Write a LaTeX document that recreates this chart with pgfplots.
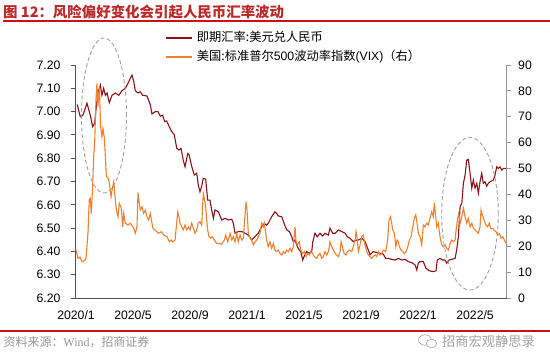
\documentclass[border=0pt]{standalone}
\usepackage{pgfplots}
\pgfplotsset{compat=1.18}
\usepackage{fontspec}
\setmainfont{Liberation Sans}
\newfontfamily\cjk{Noto Sans CJK SC}
\newfontfamily\serifrm{Liberation Serif}
\definecolor{rmbred}{RGB}{140,18,24}
\definecolor{vixorange}{RGB}{240,128,44}
\definecolor{titlered}{RGB}{190,40,40}
\definecolor{linered}{RGB}{204,16,24}
\definecolor{axisgray}{RGB}{80,80,80}
\definecolor{rightgray}{RGB}{150,150,150}
\definecolor{footgray}{RGB}{150,150,150}
\definecolor{ellgray}{RGB}{160,160,160}

\pgfplotstableread{
x y
0.09 7.030
0.30 6.978
0.49 6.985
0.77 7.036
1.00 6.985
1.17 6.935
1.31 6.950
1.40 7.007
1.54 7.080
1.71 7.114
1.82 7.070
1.94 7.100
2.06 7.070
2.18 7.080
2.34 7.038
2.53 7.070
2.76 7.080
3.00 7.070
3.23 7.090
3.46 7.100
3.65 7.121
3.81 7.143
3.93 7.157
4.05 7.130
4.16 7.090
4.35 7.080
4.51 7.085
4.68 7.070
4.98 7.067
5.21 7.030
5.33 6.990
5.56 7.000
5.75 7.000
5.92 6.980
6.08 6.985
6.22 6.957
6.36 6.960
6.51 6.940
6.72 6.914
6.90 6.900
7.07 6.842
7.23 6.835
7.37 6.842
7.53 6.790
7.65 6.763
7.84 6.820
7.93 6.815
8.12 6.765
8.30 6.728
8.47 6.735
8.58 6.685
8.70 6.656
8.82 6.680
8.93 6.714
9.10 6.710
9.24 6.620
9.40 6.620
9.52 6.578
9.64 6.542
9.75 6.578
9.99 6.570
10.22 6.535
10.46 6.542
10.69 6.535
10.93 6.538
11.04 6.520
11.16 6.478
11.39 6.485
11.63 6.485
11.86 6.478
12.09 6.470
12.33 6.449
12.56 6.463
12.79 6.478
13.03 6.506
13.21 6.520
13.38 6.513
13.49 6.520
13.73 6.549
13.96 6.570
14.08 6.563
14.20 6.552
14.44 6.549
14.60 6.520
14.79 6.492
14.97 6.485
15.14 6.463
15.25 6.440
15.37 6.449
15.53 6.420
15.67 6.406
15.77 6.399
15.91 6.363
16.00 6.378
16.19 6.399
16.37 6.392
16.54 6.399
16.61 6.440
16.77 6.478
16.93 6.463
17.12 6.478
17.31 6.466
17.47 6.478
17.71 6.470
17.82 6.500
18.01 6.478
18.18 6.478
18.41 6.492
18.65 6.485
18.88 6.478
19.04 6.463
19.23 6.456
19.46 6.442
19.70 6.449
19.81 6.449
20.05 6.456
20.28 6.442
20.51 6.406
20.63 6.385
20.86 6.399
21.10 6.395
21.33 6.392
21.56 6.388
21.73 6.370
21.92 6.370
22.15 6.366
22.39 6.363
22.62 6.370
22.86 6.363
23.09 6.366
23.32 6.356
23.56 6.352
23.79 6.342
23.91 6.320
24.02 6.350
24.14 6.356
24.37 6.356
24.56 6.327
24.79 6.317
25.07 6.313
25.26 6.317
25.35 6.363
25.54 6.370
25.71 6.363
25.89 6.363
26.01 6.349
26.18 6.363
26.36 6.366
26.60 6.370
26.72 6.410
26.83 6.463
26.95 6.592
27.07 6.606
27.18 6.692
27.30 6.728
27.42 6.792
27.53 6.795
27.65 6.735
27.77 6.671
27.88 6.706
28.00 6.671
28.12 6.692
28.23 6.650
28.35 6.700
28.47 6.735
28.58 6.692
28.70 6.699
28.82 6.680
28.93 6.692
29.05 6.699
29.28 6.706
29.40 6.728
29.52 6.763
29.64 6.756
29.75 6.763
29.87 6.749
29.99 6.756
30.18 6.756
}\rmbdata

\pgfplotstableread{
x y
0.00 18.5
0.07 17.0
0.14 15.3
0.28 15.8
0.42 14.0
0.61 14.5
0.70 15.3
0.84 25.0
0.93 37.9
1.00 38.5
1.07 32.7
1.17 43.0
1.24 54.6
1.31 60.0
1.40 76.5
1.47 82.9
1.54 74.0
1.64 81.6
1.73 66.0
1.82 62.3
1.89 65.5
1.99 61.8
2.06 54.6
2.13 46.9
2.25 46.3
2.34 44.5
2.46 39.1
2.53 41.7
2.65 44.9
2.72 40.4
2.83 34.0
2.95 31.4
3.04 36.6
3.18 34.7
3.28 27.5
3.35 32.7
3.46 28.9
3.65 28.2
3.81 28.9
4.05 26.9
4.16 25.0
4.28 27.5
4.35 40.7
4.44 36.6
4.51 34.0
4.63 35.3
4.75 32.7
4.86 34.0
4.98 31.4
5.10 30.1
5.21 32.7
5.33 28.9
5.40 26.9
5.52 26.3
5.68 25.6
5.80 25.0
5.99 25.6
6.15 24.3
6.39 23.7
6.55 21.7
6.69 22.4
6.79 21.7
6.95 22.4
7.14 33.3
7.23 31.4
7.30 28.9
7.42 27.5
7.53 26.3
7.65 28.2
7.77 26.3
7.88 27.5
8.00 26.3
8.12 28.9
8.23 27.0
8.35 25.0
8.47 26.3
8.58 28.9
8.70 29.5
8.82 28.2
8.93 40.4
9.00 38.5
9.10 35.3
9.17 30.1
9.24 26.3
9.33 23.7
9.47 23.1
9.56 23.7
9.71 22.4
9.87 21.1
10.04 21.1
10.22 20.8
10.41 22.4
10.51 24.3
10.65 21.7
10.81 24.9
10.93 22.4
11.04 23.7
11.16 21.7
11.28 24.9
11.39 21.7
11.51 24.3
11.63 22.4
11.74 23.1
11.93 37.2
12.00 34.0
12.09 25.0
12.21 23.1
12.33 22.4
12.44 20.5
12.56 21.7
12.68 22.4
12.79 23.7
12.91 25.0
13.03 28.9
13.14 27.5
13.21 28.9
13.38 22.4
13.49 19.8
13.61 21.7
13.73 19.2
13.85 21.1
13.96 18.5
14.08 17.9
14.20 18.5
14.32 17.2
14.44 16.6
14.55 17.9
14.67 17.2
14.79 18.5
14.90 17.9
15.02 19.2
15.14 17.9
15.25 19.8
15.37 27.5
15.44 21.7
15.53 20.5
15.67 21.7
15.77 18.5
15.91 17.2
16.02 17.9
16.14 16.0
16.26 17.2
16.37 16.6
16.47 17.9
16.61 17.2
16.72 16.0
16.89 15.3
17.00 16.6
17.12 17.2
17.24 15.3
17.35 16.0
17.47 17.9
17.59 16.6
17.71 17.9
17.82 21.7
17.94 19.8
18.06 18.5
18.18 17.2
18.29 16.6
18.41 16.0
18.53 17.9
18.60 21.7
18.72 19.2
18.81 17.2
18.95 16.6
19.04 17.9
19.18 18.5
19.35 17.9
19.46 19.8
19.58 22.4
19.65 25.6
19.74 22.4
19.81 17.9
19.93 20.5
20.05 23.7
20.16 24.3
20.28 20.5
20.40 17.9
20.51 16.6
20.63 16.0
20.75 15.3
20.86 16.0
20.98 16.6
21.10 16.0
21.21 17.9
21.33 16.6
21.45 17.2
21.56 18.5
21.73 17.9
21.87 22.4
21.96 30.1
22.06 31.4
22.15 28.9
22.22 26.3
22.34 25.0
22.44 19.8
22.53 22.4
22.62 21.7
22.69 19.8
22.81 18.5
22.93 17.9
23.04 17.2
23.16 17.9
23.28 19.8
23.39 22.4
23.51 23.7
23.63 27.5
23.74 30.8
23.84 32.1
23.93 28.9
24.02 25.0
24.14 23.7
24.26 20.5
24.37 28.2
24.49 27.5
24.61 28.9
24.72 28.2
24.84 30.8
24.96 33.3
25.07 31.4
25.14 36.6
25.24 31.4
25.31 27.5
25.42 28.9
25.54 23.7
25.66 20.5
25.77 19.8
25.89 20.5
26.01 19.2
26.13 18.5
26.25 21.1
26.36 22.4
26.48 21.7
26.60 22.4
26.67 26.3
26.76 30.1
26.86 32.7
26.95 28.9
27.07 31.4
27.18 34.7
27.30 31.4
27.42 28.9
27.53 30.8
27.65 27.5
27.77 28.9
27.88 26.9
28.00 26.3
28.12 25.6
28.23 25.0
28.35 27.5
28.42 34.0
28.51 32.1
28.63 30.1
28.77 28.2
28.89 27.5
29.00 28.9
29.10 26.9
29.24 26.9
29.33 26.3
29.47 25.6
29.59 24.3
29.71 24.9
29.82 23.1
29.94 23.7
30.05 22.4
30.18 21.1
}\vixdata

\begin{document}
\begin{tikzpicture}
\path[use as bounding box, fill=white] (0bp,0bp) rectangle (550bp,361bp);

\begin{axis}[
  at={(75bp,63bp)}, anchor=south west,
  scale only axis, width=431.7bp, height=233bp,
  xmin=-0.07, xmax=30.22, ymin=6.2, ymax=7.2,
  axis x line*=bottom, axis y line*=left,
  axis line style={draw=axisgray, line width=0.8pt},
  xtick={0,4,8,12,16,20,24,28},
  xticklabels={2020/1,2020/5,2020/9,2021/1,2021/5,2021/9,2022/1,2022/5},
  xtick style={draw=none},
  ytick={6.2,6.3,6.4,6.5,6.6,6.7,6.8,6.9,7.0,7.1,7.2},
  yticklabels={6.20,6.30,6.40,6.50,6.60,6.70,6.80,6.90,7.00,7.10,7.20},
  ytick align=outside, major tick length=4bp,
  ytick style={draw=axisgray, line width=0.8pt},
  tick label style={font=\fontsize{12.3}{14}\selectfont, text=black},
  xticklabel style={yshift=-9bp},
  yticklabel style={xshift=-7bp},
]
\addplot[rmbred, line width=1.1pt, no markers] table[x=x,y=y]{\rmbdata};
\end{axis}

\begin{axis}[
  at={(75bp,63bp)}, anchor=south west,
  scale only axis, width=431.7bp, height=233bp,
  xmin=-0.07, xmax=30.22, ymin=0, ymax=90,
  axis x line=none, axis y line*=right,
  axis line style={draw=rightgray, line width=0.8pt},
  ytick={0,10,20,30,40,50,60,70,80,90},
  yticklabels={0,10,20,30,40,50,60,70,80,90},
  ytick align=outside, major tick length=4bp,
  ytick style={draw=rightgray, line width=0.8pt},
  tick label style={font=\fontsize{12.3}{14}\selectfont, text=black},
  yticklabel style={xshift=4bp},
]
\addplot[vixorange, line width=1.1pt, no markers] table[x=x,y=y]{\vixdata};
\end{axis}

\begin{scope}[x=1bp,y=1bp]
% title
\node[anchor=west, inner sep=0, text=titlered, font=\fontsize{14.5}{17}\selectfont\cjk\bfseries] at (3,349.3) {图 12：风险偏好变化会引起人民币汇率波动};
\fill[linered] (3,339.3) rectangle (550,341.3);
% legend
\draw[rmbred, line width=1.6pt] (165.7,323) -- (191.7,323);
\node[anchor=west, inner sep=0, font=\fontsize{12.3}{14}\selectfont] at (196.7,324.3) {\cjk 即期汇率:美元兑人民币};
\draw[vixorange, line width=1.6pt] (165.7,304) -- (191.7,304);
\node[anchor=west, inner sep=0, font=\fontsize{12.3}{14}\selectfont] at (196.7,304.3) {{\cjk 美国:标准普尔}500{\cjk 波动率指数}(VIX){\cjk （右）}};
% ellipses
\draw[ellgray, line width=0.9pt, dash pattern=on 4pt off 2.5pt] (104,245.5) ellipse [x radius=22.5, y radius=77.5];
\draw[ellgray, line width=0.9pt, dash pattern=on 4pt off 2.5pt] (470,147.3) ellipse [x radius=28.3, y radius=76.3];
% footer
\fill[linered] (0,29) rectangle (550,31);
\node[anchor=west, inner sep=0, text=footgray, font=\fontsize{12}{14}\selectfont] at (3.5,19) {{\cjk 资料来源：}{\serifrm Wind}{\cjk ，招商证券}};
\draw[footgray!80, line width=0.7pt] (425,21) ellipse [x radius=6.5, y radius=5.2];
\draw[footgray!80, line width=0.7pt, fill=white] (431.5,17.5) ellipse [x radius=5.2, y radius=4.3];
\node[anchor=west, inner sep=0, text=footgray!90, font=\fontsize{13.3}{15}\selectfont\cjk] at (442,20) {招商宏观静思录};
\end{scope}
\end{tikzpicture}
\end{document}
